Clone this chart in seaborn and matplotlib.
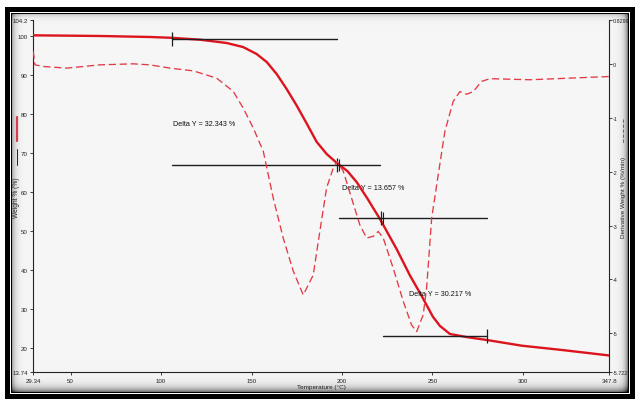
import numpy as np
import pandas as pd
import matplotlib
matplotlib.use("Agg")
import matplotlib.pyplot as plt
from matplotlib.lines import Line2D
import seaborn as sns

# ---- TGA data: temperature (°C) vs weight (%) ----
temp_tg = [29.34, 66.2, 93.85, 106.0, 121.5, 136.25, 145.3, 152.8, 158.4, 163.9,
           169.4, 175.0, 180.5, 186.0, 191.5, 197.1, 203.0, 208.1, 214.0, 221.0,
           230.2, 237.6, 244.0, 250.3, 254.2, 259.7, 268.9, 280.0, 299.3, 321.4, 347.8]
weight = [100.14, 99.97, 99.71, 99.5, 99.02, 98.17, 97.14, 95.35, 93.29, 90.21,
          86.37, 82.08, 77.5, 72.8, 69.7, 67.4, 65.3, 62.5, 58.3, 53.0,
          45.3, 38.5, 33.3, 27.9, 25.55, 23.5, 22.7, 21.96, 20.5, 19.4, 17.98]

# ---- DTG data: temperature (°C) vs derivative weight (%/min) ----
temp_dtg = [29.34, 30.28, 34.87, 47.8, 66.2, 84.6, 93.85, 104.9, 117.8, 130.7,
            139.9, 145.4, 151.0, 156.5, 162.0, 167.5, 173.1, 178.6, 184.1, 187.8,
            191.5, 195.2, 197.4, 200.7, 205.3, 209.9, 213.6, 217.3, 220.05, 222.8,
            228.3, 233.9, 238.5, 241.3, 244.9, 246.8, 249.6, 253.2, 256.9, 261.5,
            265.2, 268.9, 272.6, 277.2, 281.8, 303.9, 326.0, 347.8]
deriv = [0.236, -0.013, -0.043, -0.074, -0.013, 0.006, -0.013, -0.074, -0.125, -0.26,
         -0.507, -0.818, -1.19, -1.62, -2.49, -3.23, -3.85, -4.29, -3.92, -3.10,
         -2.30, -1.93, -1.81, -1.99, -2.49, -2.99, -3.23, -3.20, -3.11, -3.23,
         -3.79, -4.41, -4.85, -4.97, -4.66, -4.16, -2.86, -2.06, -1.25, -0.69,
         -0.51, -0.56, -0.51, -0.32, -0.27, -0.29, -0.26, -0.23]

# ---- Step analysis (Delta Y) ----
start_level = 99.25
delta_y = [32.343, 13.657, 30.217]
delta_text_pos = [(106.7, 77.6), (200.0, 61.0), (236.9, 33.8)]

# ---- Axis ticks ----
x_ticks = [29.34, 50, 100, 150, 200, 250, 300, 347.8]
x_labels = ["29.34", "50", "100", "150", "200", "250", "300", "347.8"]
yl_ticks = [13.74, 20, 30, 40, 50, 60, 70, 80, 90, 100, 104.2]
yl_labels = ["13.74", "20", "30", "40", "50", "60", "70", "80", "90", "100", "104.2"]
yr_ticks = [-5.722, -5, -4, -3, -2, -1, 0, 0.8299]
yr_labels = ["-5.722", "-5", "-4", "-3", "-2", "-1", "0", "0.8299"]

sns.set_style("ticks")
plt.rcParams["font.family"] = ["Liberation Sans Narrow", "Liberation Sans", "DejaVu Sans"]

W, H = 640, 402
fig = plt.figure(figsize=(W / 100, H / 100), dpi=100)

# ---- framed background with soft inner shadow ----
img = np.ones((H, W, 3))
img[8:400, 5:635] = 0.0
img[13:395, 10:630] = 1.0
img[14:394, 11:629] = 0.0
yy, xx = np.mgrid[15:393, 12:628].astype(float)
shade = (0.965
         - 0.30 * np.exp(-(xx - 12) / 3.0)
         - 0.45 * np.exp(-(627 - xx) / 3.0)
         - 0.18 * np.exp(-(yy - 15) / 2.5)
         - 0.50 * np.exp(-(392 - yy) / 4.0))
shade = np.clip(shade, 0, 1)
img[15:393, 12:628] = shade[..., None]
bg = fig.add_axes([0, 0, 1, 1], zorder=-5)
bg.imshow(img, extent=(0, W, H, 0), aspect="auto", interpolation="nearest")
bg.axis("off")


def fx(px):
    return px / W


def fy(py):
    return 1 - py / H


ax_l, ax_r, ax_t, ax_b = 33.3, 609.3, 20.5, 373.0
ax = fig.add_axes([fx(ax_l), fy(ax_b), fx(ax_r - ax_l), (ax_b - ax_t) / H])
ax.set_facecolor("none")
ax2 = ax.twinx()
ax2.set_facecolor("none")

tg = pd.DataFrame({"Temperature": temp_tg, "Weight": weight})
dtg = pd.DataFrame({"Temperature": temp_dtg, "Deriv": deriv})

red = "#dc141e"
sns.lineplot(data=dtg, x="Temperature", y="Deriv", ax=ax2, estimator=None,
             sort=False, color="#e23a44", linewidth=0.95, zorder=2)
ax2.lines[-1].set_linestyle((0, (5.5, 2.8)))
ax2.lines[-1].set_solid_joinstyle("round")
sns.lineplot(data=tg, x="Temperature", y="Weight", ax=ax, estimator=None,
             sort=False, color=red, linewidth=1.7, zorder=3)
ax.lines[-1].set_solid_joinstyle("round")

ax.set_xlim(29.34, 347.8)
ax.set_ylim(13.74, 104.2)
ax2.set_ylim(-5.722, 0.8299)

# ---- Delta Y step lines ----
levels = [start_level]
for d in delta_y:
    levels.append(levels[-1] - d)
t_marks = [105.85, 197.05, 221.55, 280.1]
spans = [(105.85, 197.05), (105.85, 221.0), (198.3, 280.1), (222.6, 280.1)]
lc = "#1e1e1e"
for lev, (a, b) in zip(levels, spans):
    ax.plot([a, b], [lev, lev], color=lc, lw=1.0, zorder=4)
for i, (t, lev) in enumerate(zip(t_marks, levels)):
    ax.plot([t], [lev], marker="|", ms=10, mew=0.9, color=lc, zorder=5)
    if i in (1, 2):
        ax.plot([t + 1.2], [lev], marker="|", ms=9, mew=0.8, color=lc, zorder=5)
for d, (tx, ty) in zip(delta_y, delta_text_pos):
    ax.text(tx, ty, f"Delta Y = {d:.3f} %", fontsize=5.2, color="#111111",
            va="center", ha="left", zorder=6)

# ---- axes styling ----
for s in ["top", "right"]:
    ax.spines[s].set_visible(False)
for s in ["top", "left", "bottom"]:
    ax2.spines[s].set_visible(False)
for sp in [ax.spines["left"], ax.spines["bottom"], ax2.spines["right"]]:
    sp.set_linewidth(0.8)
    sp.set_color("#222222")

ax.set_xticks(x_ticks)
ax.set_xticklabels(x_labels)
ax.set_yticks(yl_ticks)
ax.set_yticklabels(yl_labels)
ax2.set_yticks(yr_ticks)
ax2.set_yticklabels(yr_labels)
ax.tick_params(axis="both", length=2.5, width=0.6, labelsize=4.4, pad=1.5, colors="#222222")
ax2.tick_params(axis="y", length=2.0, width=0.6, labelsize=3.9, pad=0.6, colors="#222222")
ax.set_xlabel("")
ax.set_ylabel("")
ax2.set_ylabel("")
ax.grid(False)
ax2.grid(False)

# ---- axis titles with line keys ----
fig.text(fx(321), fy(388), "Temperature (°C)", fontsize=4.6, ha="center", va="center",
         color="#222222")
fig.text(fx(17), fy(198), "Weight % (%)", fontsize=4.8, rotation=90,
         ha="center", va="center", color="#222222")
fig.add_artist(Line2D([fx(17), fx(17)], [fy(150), fy(166)], color="#222222", lw=0.7))
fig.add_artist(Line2D([fx(17), fx(17)], [fy(118), fy(142)], color="#d04050", lw=1.6))
fig.text(fx(623), fy(197), "Derivative Weight % (%/min)", fontsize=4.6, rotation=90,
         ha="center", va="center", color="#222222")
fig.add_artist(Line2D([fx(623), fx(623)], [fy(120), fy(145)], color="#555555", lw=0.6,
                      linestyle=(0, (4, 2))))

fig.savefig("out.png", dpi=100)
